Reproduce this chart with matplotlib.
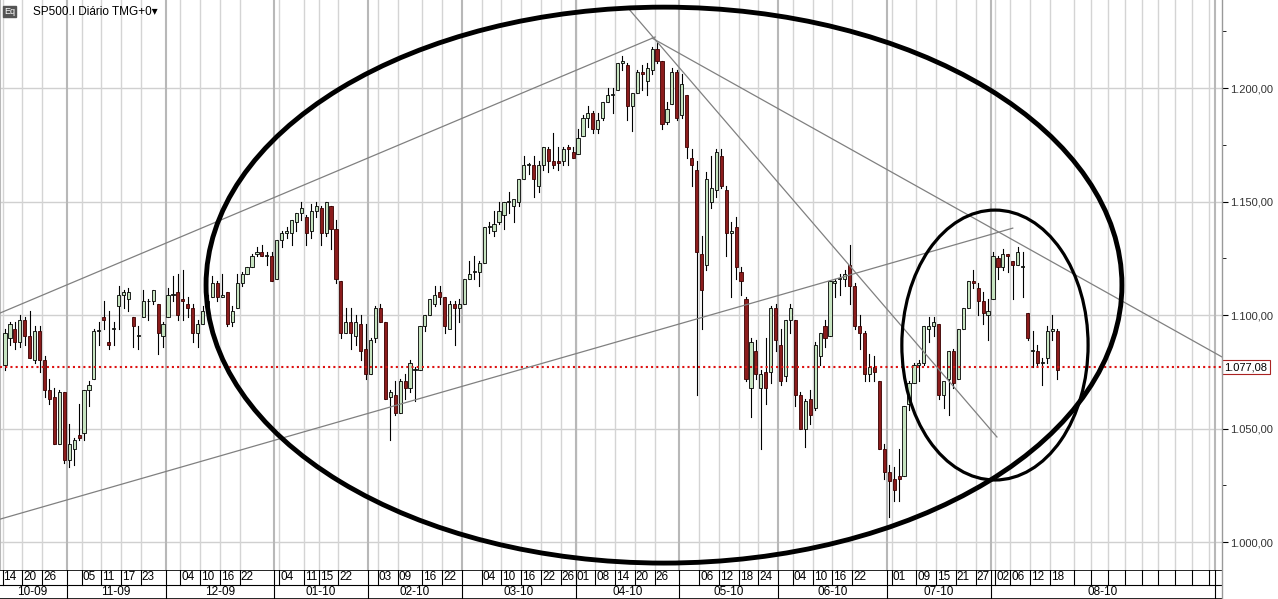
import matplotlib.pyplot as plt
from matplotlib.patches import Ellipse, Rectangle
import numpy as np

plt.rcParams['font.family'] = ['Liberation Sans', 'DejaVu Sans']

# daily OHLC, 14 Oct 2009 .. 19 Aug 2010 (trading days)
opens = [1078,1090,1094,1088,1098,1091,1080,1093,1080,1067,1064,1043,1066,
         1036,1041,1047,1048,1067,1072,1093,1099,1088,1094,1104,1109,1107,1099,1091,1099,1106,1106,1105,1091,
         1099,1109,1110,1107,1105,1103,1092,1096,1103,1108,1114,1108,1110,1097,1103,1114,1118,1121,1127,1128,1126,1126,
         1116,1133,1136,1136,1141,1145,1143,1137,1146,1147,1136,1148,1138,1115,1092,1097,1091,1096,1085,
         1074,1090,1103,1097,1064,1065,1057,1071,1068,1076,1076,1095,1100,1105,1110,1108,1094,1105,1103,
         1105,1116,1119,1119,1123,1139,1137,1141,1144,1150,1148,1150,1160,1166,1166,1157,1166,1173,1168,1168,1168,1174,1172,
         1171,1179,1187,1189,1182,1187,1194,1197,1199,1211,1210,1192,1198,1207,1203,1208,1217,1212,1185,1193,1207,
         1188,1197,1169,1164,1127,1122,1150,1155,1170,1155,1136,1139,1119,1107,1068,1084,1068,1075,1075,1103,
         1087,1073,1098,1098,1065,1050,1063,1059,1082,1095,1091,1114,1116,1116,1122,1113,1095,1092,1074,1077,1071,1041,
         1031,1028,1029,1029,1061,1070,1078,1079,1094,1095,1096,1065,1072,1084,1072,1094,1103,1115,1112,1106,1100,
         1107,1125,1121,1127,1124,1122,1121,1101,1084,1084,1079,1081,1093,1093]
highs = [1094,1097,1097,1100,1099,1102,1095,1095,1082,1072,1068,1067,1066,
         1052,1046,1061,1067,1071,1094,1097,1106,1102,1097,1113,1111,1112,1099,1095,1111,1107,1111,1105,1097,
         1112,1117,1118,1120,1108,1105,1098,1104,1109,1117,1115,1118,1110,1104,1118,1119,1121,1127,1130,1131,1128,1128,
         1133,1137,1139,1142,1145,1150,1144,1149,1150,1148,1150,1148,1142,1115,1103,1103,1100,1100,1096,
         1090,1104,1105,1097,1067,1071,1072,1074,1080,1077,1095,1100,1107,1113,1113,1108,1106,1106,1107,
         1116,1124,1126,1124,1139,1141,1146,1150,1150,1154,1150,1160,1170,1167,1170,1168,1174,1174,1180,1174,1174,1175,1174,
         1182,1188,1192,1190,1189,1194,1200,1200,1211,1214,1211,1198,1208,1210,1211,1218,1220,1212,1194,1209,1208,
         1206,1197,1173,1168,1135,1163,1170,1173,1173,1157,1141,1143,1121,1108,1090,1089,1076,1090,1104,1105,
         1094,1098,1105,1098,1066,1063,1067,1088,1092,1098,1115,1116,1118,1120,1131,1114,1100,1093,1083,1082,1071,1043,
         1034,1033,1041,1060,1071,1079,1080,1095,1099,1099,1096,1069,1084,1085,1094,1103,1115,1120,1114,1110,1107,
         1128,1126,1129,1127,1124,1130,1128,1101,1093,1087,1081,1095,1100,1094]
lows = [1076,1087,1085,1086,1087,1081,1079,1075,1064,1061,1043,1043,1035,
        1033,1034,1045,1045,1060,1072,1087,1094,1085,1087,1094,1103,1102,1086,1085,1099,1098,1105,1083,1086,
        1099,1106,1098,1098,1099,1088,1086,1096,1103,1108,1106,1108,1095,1095,1103,1113,1118,1121,1126,1126,1122,1115,
        1116,1130,1134,1131,1137,1142,1131,1134,1143,1131,1135,1129,1114,1090,1092,1085,1087,1080,1072,
        1074,1088,1097,1063,1045,1056,1057,1063,1066,1062,1076,1093,1100,1104,1105,1092,1095,1087,1097,
        1105,1116,1116,1113,1123,1136,1135,1140,1138,1145,1141,1148,1160,1162,1152,1154,1164,1163,1165,1164,1166,1166,1169,
        1171,1179,1183,1180,1180,1186,1194,1189,1199,1208,1186,1181,1198,1199,1197,1206,1211,1182,1184,1193,1186,
        1187,1169,1157,1065,1094,1120,1147,1152,1156,1126,1108,1116,1109,1071,1055,1072,1041,1061,1070,1084,
        1069,1071,1092,1060,1050,1042,1052,1058,1078,1086,1091,1108,1109,1113,1105,1094,1085,1071,1071,1071,1041,1028,
        1011,1018,1018,1029,1058,1070,1071,1078,1088,1091,1063,1059,1056,1068,1072,1094,1103,1112,1100,1096,1089,
        1107,1116,1120,1119,1107,1122,1108,1089,1077,1078,1069,1079,1089,1072]
closes = [1092,1096,1088,1098,1091,1081,1093,1080,1067,1063,1043,1066,1036,
          1043,1045,1046,1067,1069,1093,1093,1098,1087,1094,1109,1110,1110,1095,1091,1106,1106,1111,1092,1096,
          1109,1109,1100,1106,1103,1092,1096,1102,1106,1114,1108,1109,1096,1102,1114,1118,1121,1126,1128,1126,1126,1115,
          1133,1136,1137,1142,1145,1147,1136,1146,1148,1136,1150,1138,1116,1092,1097,1092,1097,1084,1074,
          1089,1103,1097,1063,1066,1057,1071,1068,1079,1076,1095,1100,1107,1109,1108,1095,1105,1103,1105,
          1116,1118,1119,1123,1139,1139,1140,1146,1150,1150,1151,1160,1166,1166,1160,1166,1174,1168,1166,1167,1173,1173,1169,
          1178,1187,1189,1182,1186,1194,1197,1197,1211,1212,1192,1198,1207,1206,1209,1217,1212,1184,1191,1207,1187,
          1202,1174,1166,1128,1111,1160,1156,1172,1157,1136,1137,1121,1115,1072,1088,1074,1074,1068,1103,1089,
          1071,1098,1103,1065,1050,1062,1056,1087,1092,1090,1115,1115,1116,1118,1113,1095,1092,1074,1077,1075,1041,1031,
          1027,1023,1028,1060,1070,1078,1079,1095,1095,1097,1065,1071,1084,1070,1094,1103,1115,1114,1106,1101,1102,
          1126,1121,1127,1126,1122,1128,1121,1090,1084,1079,1079,1093,1094,1076]

# day-of-month labels: (trading-day index, text)
day_ticks = [(0,"14"),(4,"20"),(8,"26"),
             (16,"05"),(20,"11"),(24,"17"),(28,"23"),
             (36,"04"),(40,"10"),(44,"16"),(48,"22"),
             (56,"04"),(61,"11"),(64,"15"),(68,"22"),
             (76,"03"),(80,"09"),(85,"16"),(89,"22"),
             (97,"04"),(101,"10"),(105,"16"),(109,"22"),(113,"26"),
             (116,"01"),(120,"08"),(124,"14"),(128,"20"),(132,"26"),
             (141,"06"),(145,"12"),(149,"18"),(153,"24"),
             (160,"04"),(164,"10"),(168,"16"),(172,"22"),
             (180,"01"),(185,"09"),(189,"15"),(193,"21"),(197,"27"),
             (201,"02"),(204,"06"),(208,"12"),(212,"18")]
months = [(-1,"10-09"),(13,"11-09"),(33,"12-09"),(55,"01-10"),(74,"02-10"),
          (93,"03-10"),(116,"04-10"),(137,"05-10"),(157,"06-10"),(179,"07-10"),(200,"08-10"),(245.5,None)]
last_price = 1077.08

W, H = 1278, 599
fig = plt.figure(figsize=(W/100, H/100), dpi=100)
pw, ph = 1222, 570
ax = fig.add_axes([0, 1-ph/H, pw/W, ph/H])
axd = fig.add_axes([0, 0, pw/W, (H-ph)/H], sharex=ax)

x0 = -1.01
x1 = x0 + pw/4.94
ax.set_xlim(x0, x1)
ax.set_ylim(987.7, 1238.8)

# grid
for v in range(1000, 1226, 50):
    ax.axhline(v, color="#d0d0d0", lw=1, zorder=0)
future = list(np.arange(216.5, 245, 3.4))
for i, _ in day_ticks:
    ax.axvline(i-0.5, color="#d4d4d4", lw=1, zorder=0)
for f in future:
    ax.axvline(f, color="#d4d4d4", lw=1, zorder=0)
for m, _ in months:
    ax.axvline(m-0.5+0.5*(m == -1), color="#b8b8b8", lw=1.5, zorder=0)

# candles
for i, (o, h, l, c) in enumerate(zip(opens, highs, lows, closes)):
    ax.plot([i, i], [l, h], color="black", lw=0.8, zorder=2)
    up = c >= o
    ax.add_patch(Rectangle((i-0.32, min(o, c)), 0.64, max(abs(c-o), 0.4),
                           facecolor="#c6e3c0" if up else "#8b1c1c",
                           edgecolor="black" if up else "#3a0000", lw=0.6, zorder=3))

ax.axhline(last_price, color="#dd1111", ls=(0, (1, 1.5)), lw=1.5, zorder=4)

# drawn trend lines and ellipses
trend_lines = [((-1, 1100.9), (131.6, 1222.5)), ((-1, 1010.1), (204, 1138.3)),
               ((126.5, 1234.3), (200.8, 1046.3)), ((131, 1222), (246.4, 1081.5))]
for (a, b) in trend_lines:
    ax.plot([a[0], b[0]], [a[1], b[1]], color="#808080", lw=0.9, zorder=5)
ax.add_patch(Ellipse((133.4, 1113.2), 185.4, 244.9, fill=False, lw=3.5, ec="black", zorder=6))
ax.add_patch(Ellipse((200.4, 1086.8), 37.7, 118.9, fill=False, lw=2.3, ec="black", zorder=6))

for s in ax.spines.values():
    s.set_visible(False)
ax.set_xticks([])
ax.yaxis.tick_right()
ax.set_yticks(range(1000, 1226, 50))
ax.set_yticklabels([f"1.{v-1000:03d},00" for v in range(1000, 1226, 50)], fontsize=8, color="#333333")
ax.set_yticks(range(1025, 1226, 50), minor=True)
ax.tick_params(axis="y", length=4, direction="out", pad=2)
ax.tick_params(axis="y", which="minor", length=3)
ax.text(1.002, last_price, "1.077,08", transform=ax.get_yaxis_transform(), fontsize=8,
        va="center", ha="left", bbox=dict(boxstyle="square,pad=0.2", fc="white", ec="#aa2222", lw=0.8))
fig.add_artist(plt.Line2D([pw/W, pw/W], [0, 1], color="#999999", lw=1))

# title
fig.text(0.003, 0.988, "Eq", fontsize=6.5, va="top", ha="left",
         bbox=dict(boxstyle="square,pad=0.1", fc="#555555", ec="#555555"), color="white")
fig.text(0.026, 0.99, "SP500.I Diário TMG+0\u25be", fontsize=8.5, va="top", ha="left")

# date rows
axd.set_ylim(0, 2)
axd.set_xticks([]); axd.set_yticks([])
for s in axd.spines.values():
    s.set_visible(False)
axd.axhline(1, color="black", lw=0.8)
axd.axhline(2, color="black", lw=1.2)
axd.axhline(0, color="black", lw=1.2)
for i, t in day_ticks:
    axd.plot([i-0.5, i-0.5], [1, 2], color="black", lw=0.8)
    axd.text(i-0.3, 1.5, t, fontsize=8.5, va="center", ha="left")
for f in future:
    axd.plot([f, f], [1, 2], color="black", lw=0.8)
for k, (m, t) in enumerate(months):
    axd.plot([m-0.5, m-0.5], [0, 2], color="black", lw=0.8)
    if t:
        axd.text((m-0.5 + months[k+1][0]-0.5)/2, 0.5, t, fontsize=8.5, va="center", ha="center")

fig.savefig("out.png", dpi=100)
